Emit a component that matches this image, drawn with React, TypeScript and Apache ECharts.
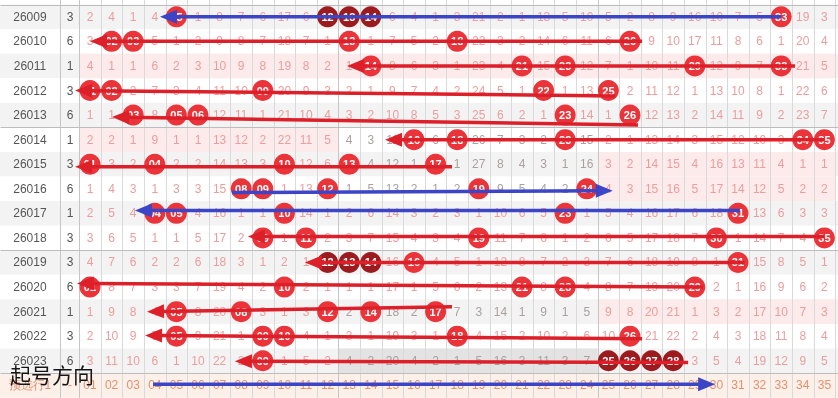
import React, { useEffect, useRef } from "react";
import * as echarts from "echarts";

// ---------------- data ----------------
const issues = ["26009", "26010", "26011", "26012", "26013", "26014", "26015", "26016", "26017", "26018", "26019", "26020", "26021", "26022", "26023"];
const groupValues = [3, 6, 1, 3, 6, 1, 3, 6, 1, 3, 3, 6, 1, 3, 6];
// omission values for numbers 01..35; 0 = drawn this issue (ball)
const omission26009 = [2, 4, 1, 4, 0, 1, 8, 7, 6, 17, 6, 0, 0, 0, 6, 4, 1, 3, 21, 2, 1, 13, 5, 10, 5, 2, 8, 9, 16, 10, 7, 5, 0, 19, 3];
const omission26010 = [3, 0, 0, 5, 1, 2, 9, 8, 7, 18, 7, 1, 0, 1, 7, 5, 2, 0, 22, 3, 2, 14, 6, 11, 6, 0, 9, 10, 17, 11, 8, 6, 1, 20, 4];
const omission26011 = [4, 1, 1, 6, 2, 3, 10, 9, 8, 19, 8, 2, 1, 0, 8, 6, 3, 1, 23, 4, 0, 15, 0, 12, 7, 1, 10, 11, 0, 12, 9, 7, 0, 21, 5];
const omission26012 = [0, 0, 2, 7, 3, 4, 11, 10, 0, 20, 9, 3, 2, 1, 9, 7, 4, 2, 24, 5, 1, 0, 1, 13, 0, 2, 11, 12, 1, 13, 10, 8, 1, 22, 6];
const omission26013 = [1, 1, 0, 8, 0, 0, 12, 11, 1, 21, 10, 4, 3, 2, 10, 8, 5, 3, 25, 6, 2, 1, 0, 14, 1, 0, 12, 13, 2, 14, 11, 9, 2, 23, 7];
const omission26014 = [2, 2, 1, 9, 1, 1, 13, 12, 2, 22, 11, 5, 4, 3, 11, 0, 6, 0, 26, 7, 3, 2, 0, 15, 2, 1, 13, 14, 3, 15, 12, 10, 3, 0, 0];
const omission26015 = [0, 3, 2, 0, 2, 2, 14, 13, 3, 0, 12, 6, 0, 4, 12, 1, 0, 1, 27, 8, 4, 3, 1, 16, 3, 2, 14, 15, 4, 16, 13, 11, 4, 1, 1];
const omission26016 = [1, 4, 3, 1, 3, 3, 15, 0, 0, 1, 13, 0, 1, 5, 13, 2, 1, 2, 0, 9, 5, 4, 2, 0, 4, 3, 15, 16, 5, 17, 14, 12, 5, 2, 2];
const omission26017 = [2, 5, 4, 0, 0, 4, 16, 1, 1, 0, 14, 1, 2, 6, 14, 3, 2, 3, 1, 10, 6, 5, 0, 1, 5, 4, 16, 17, 6, 18, 0, 13, 6, 3, 3];
const omission26018 = [3, 6, 5, 1, 1, 5, 17, 2, 0, 1, 0, 2, 3, 7, 15, 4, 3, 4, 0, 11, 7, 6, 1, 2, 6, 5, 17, 18, 7, 0, 1, 14, 7, 4, 0];
const omission26019 = [4, 7, 6, 2, 2, 6, 18, 3, 1, 2, 1, 0, 0, 0, 16, 0, 4, 5, 1, 12, 8, 7, 2, 3, 7, 6, 18, 19, 8, 1, 0, 15, 8, 5, 1];
const omission26020 = [0, 8, 7, 3, 3, 7, 19, 4, 2, 0, 2, 1, 1, 1, 17, 1, 5, 6, 2, 13, 0, 8, 0, 4, 8, 7, 19, 20, 0, 2, 1, 16, 9, 6, 2];
const omission26021 = [1, 9, 8, 4, 0, 8, 20, 0, 3, 1, 3, 0, 2, 0, 18, 2, 0, 7, 3, 14, 1, 9, 1, 5, 9, 8, 20, 21, 1, 3, 2, 17, 10, 7, 3];
const omission26022 = [2, 10, 9, 5, 0, 9, 21, 1, 0, 0, 4, 1, 3, 1, 19, 3, 1, 0, 4, 15, 2, 10, 2, 6, 10, 0, 21, 22, 2, 4, 3, 18, 11, 8, 4];
const omission26023 = [3, 11, 10, 6, 1, 10, 22, 2, 0, 1, 5, 2, 4, 2, 20, 4, 2, 1, 5, 16, 3, 11, 3, 7, 0, 0, 0, 0, 3, 5, 4, 19, 12, 9, 5];
const omissionRows = [omission26009, omission26010, omission26011, omission26012, omission26013, omission26014, omission26015, omission26016, omission26017, omission26018, omission26019, omission26020, omission26021, omission26022, omission26023];
// partially visible previous issue (26008) drawn numbers
const prevIssueBalls = [3, 6, 17, 21, 33];
// consecutive-number balls drawn dark: [rowIndex, number]
const darkBalls = [[0, 12], [0, 13], [0, 14], [10, 12], [10, 13], [10, 14], [14, 25], [14, 26], [14, 27], [14, 28]];
// highlighted zones: [rowIndex, firstNumber, lastNumber]
const pinkZones = [[2, 1, 35], [5, 1, 12], [6, 25, 35], [7, 25, 35], [12, 25, 35]];
const grayZones = [[14, 13, 24]];
const mutedTextZones = [[5, 13, 24], [6, 13, 24], [7, 13, 24], [12, 13, 24], [14, 13, 24]];
const bottomLabels = ["01", "02", "03", "04", "05", "06", "07", "08", "09", "10", "11", "12", "13", "14", "15", "16", "17", "18", "19", "20", "21", "22", "23", "24", "25", "26", "27", "28", "29", "30", "31", "32", "33", "34", "35"];
const bottomTitle = "预选行1";
// arrows: [rowIndex, tailNumber, tipNumber, tailRowShift, tipRowShift, colorIndex(0 red,1 blue)]
const arrowRows = [
  [0, 33.0, 4.24, 0, 0, 1],
  [1, 26.56, 1.0, 0, 0, 0],
  [2, 33.64, 12.9, 0, 0, 0],
  [3, 25.3, 0.31, 0.22, 0, 0],
  [4, 26.37, 2.02, 0.4, 0.08, 0],
  [5, 35.0, 14.66, 0, 0, 0],
  [6, 17.76, 0.31, 0.1, 0.1, 0],
  [7, 7.57, 25.2, 0.15, 0.08, 1],
  [8, 31.09, 3.08, -0.12, -0.12, 1],
  [9, 35.0, 8.31, -0.06, -0.06, 0],
  [10, 31.3, 10.95, 0, 0, 0],
  [11, 29.38, 0.4, 0, -0.15, 0],
  [12, 17.76, 3.64, -0.2, 0, 0],
  [13, 26.56, 3.55, 0.1, -0.03, 0],
  [14, 28.69, 7.71, 0.07, 0.02, 0],
  [15, 3.92, 29.94, -0.04, -0.04, 1],
];
const overlayTitle = "起号方向";

// ---------------- layout / style ----------------
const XMIN = -3.1667;
const XMAX = 35.63;
const YMIN = -0.684;
const YMAX = 15.515;
const ISSUE_X = -1.78;
const GROUP_X = 0.074;
const ISSUE_BORDER = -0.389;
const BOTTOM_ROW = 15;
const FONT = '"Liberation Sans", Arial, sans-serif';
const PINK_TEXT = "#ec9d9d";
const MUTED_TEXT = "#ab9f9f";
const DARK_TEXT = "#555555";
const SALMON_TEXT = "#e88f6e";
const BALL_RED = "#ea343a";
const BALL_DARK = "#9c1b1f";
const ARROW_COLORS = ["#dd1f29", "#3b45c6"];

function inZones(zones: number[][], r: number, c: number) {
  return zones.some((z) => z[0] === r && c >= z[1] && c <= z[2]);
}

export default function App() {
  const ref = useRef<HTMLDivElement>(null);
  useEffect(() => {
    if (!ref.current) return;
    const chart = echarts.init(ref.current, undefined, { renderer: "svg" });

    const bgs: any[] = [];
    bgs.push({ value: [XMIN, XMAX, -1], color: "#ffffff" });
    for (let r = 0; r < issues.length; r++) {
      bgs.push({ value: [XMIN, XMAX, r], color: r % 2 === 0 ? "#f3f3f3" : "#ffffff" });
    }
    pinkZones.forEach((z) => bgs.push({ value: [z[1] - 0.5, z[2] + 0.5, z[0]], color: "#fdebeb" }));
    grayZones.forEach((z) => bgs.push({ value: [z[1] - 0.5, z[2] + 0.5, z[0]], color: "#e3e3e3" }));
    bgs.push({ value: [XMIN, XMAX, BOTTOM_ROW], color: "#fdf0e9" });

    const lines: any[] = [];
    for (let c = 0; c <= 35; c++) {
      const x = c + 0.5;
      const strong = c === 0 || c === 12 || c === 24;
      lines.push({ value: [x, -1.5, x, 15.6], color: strong ? "#c6c6c6" : "#d9d9d9" });
    }
    lines.push({ value: [ISSUE_BORDER, -1.5, ISSUE_BORDER, 15.6], color: "#c6c6c6" });
    [-0.5, 4.5, 9.5, 14.5].forEach((y) => lines.push({ value: [XMIN, y, XMAX, y], color: "#bdbdbd" }));

    const cells: any[] = [];
    issues.forEach((iss, r) => {
      cells.push({ value: [ISSUE_X, r], text: iss, color: DARK_TEXT });
      cells.push({ value: [GROUP_X, r], text: String(groupValues[r]), color: DARK_TEXT });
      omissionRows[r].forEach((v, i) => {
        const c = i + 1;
        if (v > 0) {
          cells.push({ value: [c, r], text: String(v), color: inZones(mutedTextZones, r, c) ? MUTED_TEXT : PINK_TEXT });
        }
      });
    });
    cells.push({ value: [ISSUE_X, BOTTOM_ROW], text: bottomTitle, color: SALMON_TEXT });
    cells.push({ value: [GROUP_X, BOTTOM_ROW], text: "-", color: SALMON_TEXT });
    bottomLabels.forEach((t, i) => cells.push({ value: [i + 1, BOTTOM_ROW], text: t, color: SALMON_TEXT }));

    const balls: any[] = [];
    prevIssueBalls.forEach((n) =>
      balls.push({ value: [n, -1], name: String(n).padStart(2, "0"), itemStyle: { color: BALL_RED, opacity: 1 } })
    );
    omissionRows.forEach((row, r) => {
      row.forEach((v, i) => {
        const c = i + 1;
        if (v === 0) {
          const dark = darkBalls.some((d) => d[0] === r && d[1] === c);
          balls.push({ value: [c, r], name: String(c).padStart(2, "0"), itemStyle: { color: dark ? BALL_DARK : BALL_RED, opacity: 1 } });
        }
      });
    });

    const arrows = arrowRows.map((a) => ({ value: [a[1], a[0] + a[3], a[2], a[0] + a[4], a[5]] }));

    chart.setOption({
      animation: false,
      grid: { left: 0, right: 0, top: 0, bottom: 0 },
      xAxis: { type: "value", min: XMIN, max: XMAX, show: false },
      yAxis: { type: "value", min: YMIN, max: YMAX, inverse: true, show: false },
      graphic: [
        {
          type: "text",
          left: 10,
          top: 363,
          z: 100,
          style: { text: overlayTitle, font: '21px "Noto Sans CJK SC", sans-serif', fill: "#151515" },
        },
      ],
      series: [
        {
          type: "custom",
          z: 1,
          silent: true,
          data: bgs,
          renderItem: (params: any, api: any) => {
            const d = bgs[params.dataIndex];
            const p0 = api.coord([api.value(0), api.value(2) - 0.5]);
            const p1 = api.coord([api.value(1), api.value(2) + 0.5]);
            return {
              type: "rect",
              shape: { x: p0[0], y: p0[1], width: p1[0] - p0[0], height: p1[1] - p0[1] },
              style: { fill: d.color },
            };
          },
        },
        {
          type: "custom",
          z: 2,
          silent: true,
          data: lines,
          renderItem: (params: any, api: any) => {
            const d = lines[params.dataIndex];
            const p0 = api.coord([api.value(0), api.value(1)]);
            const p1 = api.coord([api.value(2), api.value(3)]);
            return {
              type: "line",
              shape: { x1: Math.round(p0[0]) + 0.5, y1: Math.round(p0[1]) + 0.5, x2: Math.round(p1[0]) + 0.5, y2: Math.round(p1[1]) + 0.5 },
              style: { stroke: d.color, lineWidth: 1 },
            };
          },
        },
        {
          type: "custom",
          z: 3,
          silent: true,
          data: cells,
          renderItem: (params: any, api: any) => {
            const d = cells[params.dataIndex];
            const p = api.coord([api.value(0), api.value(1)]);
            return {
              type: "text",
              x: p[0],
              y: p[1],
              style: { text: d.text, fill: d.color, font: `12px ${FONT}`, align: "center", verticalAlign: "middle" },
            };
          },
        },
        {
          type: "scatter",
          z: 4,
          silent: true,
          symbol: "circle",
          symbolSize: 21,
          itemStyle: { opacity: 1 },
          data: balls,
          label: {
            show: true,
            position: "inside",
            formatter: (p: any) => p.name,
            color: "#ffffff",
            fontSize: 11,
            fontWeight: "bold",
            fontFamily: FONT,
          },
        },
        {
          type: "custom",
          z: 5,
          silent: true,
          data: arrows,
          renderItem: (params: any, api: any) => {
            const p1 = api.coord([api.value(0), api.value(1)]);
            const p2 = api.coord([api.value(2), api.value(3)]);
            const color = ARROW_COLORS[api.value(4)];
            const dx = p2[0] - p1[0];
            const dy = p2[1] - p1[1];
            const len = Math.hypot(dx, dy) || 1;
            const ux = dx / len;
            const uy = dy / len;
            const hl = 17;
            const hw = 7;
            const bx = p2[0] - ux * hl;
            const by = p2[1] - uy * hl;
            const nx = -uy;
            const ny = ux;
            return {
              type: "group",
              children: [
                {
                  type: "line",
                  shape: { x1: p1[0], y1: p1[1], x2: bx + ux * 3, y2: by + uy * 3 },
                  style: { stroke: color, lineWidth: 3.5 },
                },
                {
                  type: "polygon",
                  shape: { points: [[p2[0], p2[1]], [bx + nx * hw, by + ny * hw], [bx - nx * hw, by - ny * hw]] },
                  style: { fill: color },
                },
              ],
            };
          },
        },
      ],
    });
    return () => chart.dispose();
  }, []);
  return <div ref={ref} style={{ position: "fixed", left: 0, top: 0, width: 838, height: 398 }} />;
}
